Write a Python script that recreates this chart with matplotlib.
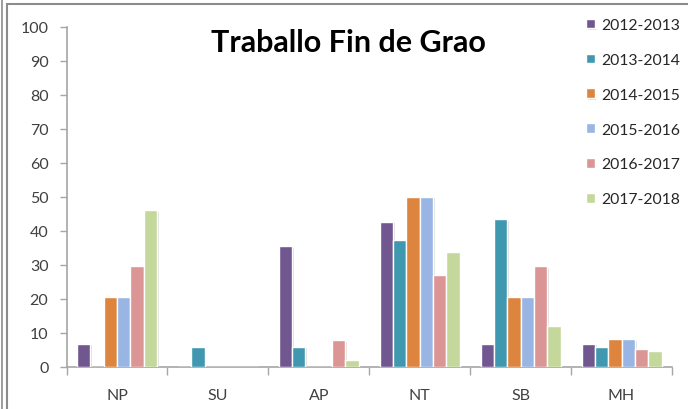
import matplotlib
matplotlib.use("Agg")
import matplotlib.pyplot as plt
import matplotlib.patheffects as pe
from matplotlib.patches import Rectangle
import numpy as np

categories = ["NP", "SU", "AP", "NT", "SB", "MH"]
series_names = ["2012-2013", "2013-2014", "2014-2015", "2015-2016", "2016-2017", "2017-2018"]
v_2012_2013 = [6.9, 0, 35.5, 42.7, 6.9, 6.9]
v_2013_2014 = [0, 6.0, 6.0, 37.3, 43.5, 6.0]
v_2014_2015 = [20.5, 0, 0, 50.0, 20.5, 8.2]
v_2015_2016 = [20.5, 0, 0, 50.0, 20.5, 8.2]
v_2016_2017 = [29.6, 0, 7.9, 27.0, 29.6, 5.3]
v_2017_2018 = [46.0, 0, 2.1, 33.9, 12.0, 4.8]
series_values = [v_2012_2013, v_2013_2014, v_2014_2015, v_2015_2016, v_2016_2017, v_2017_2018]
colors = ["#70578F", "#3F98AF", "#DD853E", "#98B5E3", "#DA9594", "#C4D89C"]
yticks = [0, 10, 20, 30, 40, 50, 60, 70, 80, 90, 100]

plt.rcParams["font.family"] = ["Lato", "DejaVu Sans"]

W, H = 688, 410
fig = plt.figure(figsize=(W / 100, H / 100), dpi=100)
fig.patch.set_facecolor("white")

# chart frame
fig.add_artist(Rectangle((7 / W, -0.05), 1.0, 1 - 5 / H + 0.05, transform=fig.transFigure,
                         fill=False, edgecolor="#8C8C8C", linewidth=1.5))
fig.add_artist(plt.Line2D([1.5 / W, 1.5 / W], [0, 1], transform=fig.transFigure,
                          color="#8C8C8C", linewidth=1.2))

ax = fig.add_axes([66.5 / W, (H - 368) / H, (672 - 66.5) / W, (368 - 27.5) / H])
x = np.arange(len(categories))
bw = 0.132
n = len(series_names)
shadow = [pe.SimplePatchShadow(offset=(1.2, -1.2), shadow_rgbFace="#c8c8c8", alpha=0.6), pe.Normal()]
for i, (name, vals, c) in enumerate(zip(series_names, series_values, colors)):
    offs = (i - (n - 1) / 2) * bw
    bars = ax.bar(x + offs, vals, width=bw, color=c, edgecolor="white", linewidth=1.0,
                  label=name, zorder=3)
    for b, v in zip(bars, vals):
        if v > 0:
            b.set_path_effects(shadow)

ax.set_xlim(-0.5, len(categories) - 0.5)
ax.set_ylim(0, 100)
ax.set_yticks(yticks)
ax.set_xticks(x)
ax.set_xticklabels(categories)
ax.set_xticks(np.arange(-0.5, len(categories)), minor=True)
ax.tick_params(axis="x", which="major", length=0, pad=15, labelsize=11.5, colors="#404040")
ax.tick_params(axis="x", which="minor", length=6, width=1, color="#A6A6A6")
ax.tick_params(axis="y", length=5, width=1, color="#A6A6A6", labelsize=11.5, labelcolor="#404040", pad=8)
for s in ["top", "right"]:
    ax.spines[s].set_visible(False)
for s in ["left", "bottom"]:
    ax.spines[s].set_color("#A6A6A6")
    ax.spines[s].set_linewidth(1.2)

fig.text(348 / W, 1 - 43 / H, "Traballo Fin de Grao", ha="center", va="center",
         fontsize=22, fontweight="bold", color="black")

leg = fig.legend(loc="upper left", bbox_to_anchor=(586 / W, 1 - 19 / H), frameon=False,
                 borderpad=0, borderaxespad=0,
                 fontsize=11.3, handlelength=0.55, handleheight=0.55, handletextpad=0.45,
                 labelspacing=1.33, labelcolor="#262626")

fig.savefig("out.png", dpi=100)
